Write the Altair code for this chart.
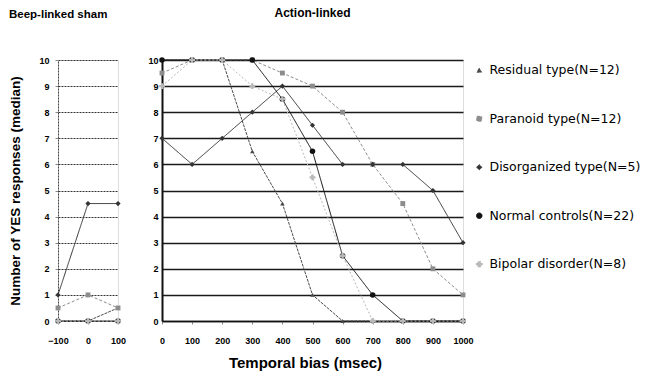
import altair as alt
import pandas as pd

series = [
    "Residual type(N=12)",
    "Paranoid type(N=12)",
    "Disorganized type(N=5)",
    "Normal controls(N=22)",
    "Bipolar disorder(N=8)",
]

# Beep-linked sham panel
beep_x = [-100, 0, 100]
beep_residual = [0, 0, 0.5]
beep_paranoid = [0.5, 1, 0.5]
beep_disorganized = [1, 4.5, 4.5]
beep_normal = [0, 0, 0]
beep_bipolar = [0, 0, 0]

# Action-linked panel
action_x = [0, 100, 200, 300, 400, 500, 600, 700, 800, 900, 1000]
action_residual = [10, 10, 10, 6.5, 4.5, 1, 0, 0, 0, 0, 0]
action_paranoid = [9.5, 10, 10, 10, 9.5, 9, 8, 6, 4.5, 2, 1]
action_disorganized = [7, 6, 7, 8, 9, 7.5, 6, 6, 6, 5, 3]
action_normal = [10, 10, 10, 10, 8.5, 6.5, 2.5, 1, 0, 0, 0]
action_bipolar = [9, 10, 10, 9, 8.5, 5.5, 2.5, 0, 0, 0, 0]

y_ticks = [0, 1, 2, 3, 4, 5, 6, 7, 8, 9, 10]

colors = ["#4a4a4a", "#8c8c8c", "#333333", "#111111", "#b8b8b8"]
shapes = ["triangle-up", "square", "diamond", "circle", "cross"]
dashes = [[3, 1], [3, 2], [1, 0], [1, 0], [2, 2]]
widths = [1, 1, 1, 1.6, 1]
sizes = [20, 34, 30, 30, 38]


def make_df(xs, cols):
    rows = []
    for name, vals in zip(series, cols):
        for x, v in zip(xs, vals):
            rows.append({"x": x, "y": v, "series": name})
    return pd.DataFrame(rows)


beep_df = make_df(beep_x, [beep_residual, beep_paranoid, beep_disorganized, beep_normal, beep_bipolar])
action_df = make_df(action_x, [action_residual, action_paranoid, action_disorganized, action_normal, action_bipolar])

color_scale = alt.Scale(domain=series, range=colors)
shape_scale = alt.Scale(domain=series, range=shapes)
dash_scale = alt.Scale(domain=series, range=dashes)
width_scale = alt.Scale(domain=series, range=widths)
size_scale = alt.Scale(domain=series, range=sizes)

legend = alt.Legend(
    title=None,
    orient="none",
    legendX=415,
    legendY=4,
    labelFont="DejaVu Sans",
    labelFontSize=12.5,
    labelColor="#000000",
    rowPadding=35.5,
    symbolSize=40,
    symbolStrokeWidth=1,
    labelOffset=4,
)


def panel(df, xdomain, xticks, width, left):
    if left:
        xaxis = alt.Axis(values=xticks, format="d", title=None, grid=False, labelFontSize=9, labelFontWeight="bold",
                         labelColor="#000", labelPadding=12, tickSize=3, domainDash=[2, 1], domainColor="#444",
                         labelFlush=False)
        yaxis = alt.Axis(values=y_ticks, title="Number of YES responses (median)", titleFontSize=13.5,
                         titleFontWeight="bold", titleColor="#000", titlePadding=16,
                         labelFontSize=9, labelFontWeight="bold", labelColor="#000", labelPadding=6,
                         tickSize=3, gridDash=[2, 1], gridColor="#333", gridWidth=1,
                         domainDash=[2, 1], domainColor="#444")
        title = alt.TitleParams("Beep-linked sham", anchor="start", frame="bounds", fontSize=11.5,
                                fontWeight="bold", color="#000", offset=36)
    else:
        xaxis = alt.Axis(values=xticks, format="d", title="Temporal bias (msec)", titleFontSize=15,
                         titleFontWeight="bold", titleColor="#000", titlePadding=10, titleX=143,
                         grid=False, labelFontSize=9, labelFontWeight="bold", labelColor="#000",
                         labelPadding=12, tickSize=3, domainColor="#111", domainWidth=1.5, labelFlush=False)
        yaxis = alt.Axis(values=y_ticks, title=None, labelFontSize=9, labelFontWeight="bold", labelColor="#000",
                         labelPadding=4, tickSize=0, gridColor="#1a1a1a", gridWidth=1.5,
                         domainColor="#111", domainWidth=2)
        title = alt.TitleParams("Action-linked", anchor="middle", fontSize=12, fontWeight="bold",
                                color="#000", offset=36)

    x = alt.X("x:Q", scale=alt.Scale(domain=xdomain, nice=False, zero=False), axis=xaxis)
    y = alt.Y("y:Q", scale=alt.Scale(domain=[0, 10], nice=False), axis=yaxis)
    base = alt.Chart(df)
    lines = base.mark_line().encode(
        x=x, y=y,
        color=alt.Color("series:N", scale=color_scale, legend=legend, sort=series),
        strokeDash=alt.StrokeDash("series:N", scale=dash_scale, legend=None),
        strokeWidth=alt.StrokeWidth("series:N", scale=width_scale, legend=None),
    )
    points = base.mark_point(filled=True, opacity=1).encode(
        x=x, y=y,
        color=alt.Color("series:N", scale=color_scale, legend=legend, sort=series),
        shape=alt.Shape("series:N", scale=shape_scale, legend=legend, sort=series),
        size=alt.Size("series:N", scale=size_scale, legend=None),
    )
    return alt.layer(lines, points).properties(width=width, height=261, title=title)


left_chart = panel(beep_df, [-100, 100], beep_x, 60, True)
right_chart = panel(action_df, [0, 1000], action_x, 301, False)

chart = alt.hconcat(left_chart, right_chart, spacing=20).properties(
    padding={"left": 8, "top": 6, "right": 2, "bottom": 2}
).configure_view(stroke=None).configure(font="Liberation Sans")

chart.save("out.html", embed_options={"renderer": "svg", "actions": False})
